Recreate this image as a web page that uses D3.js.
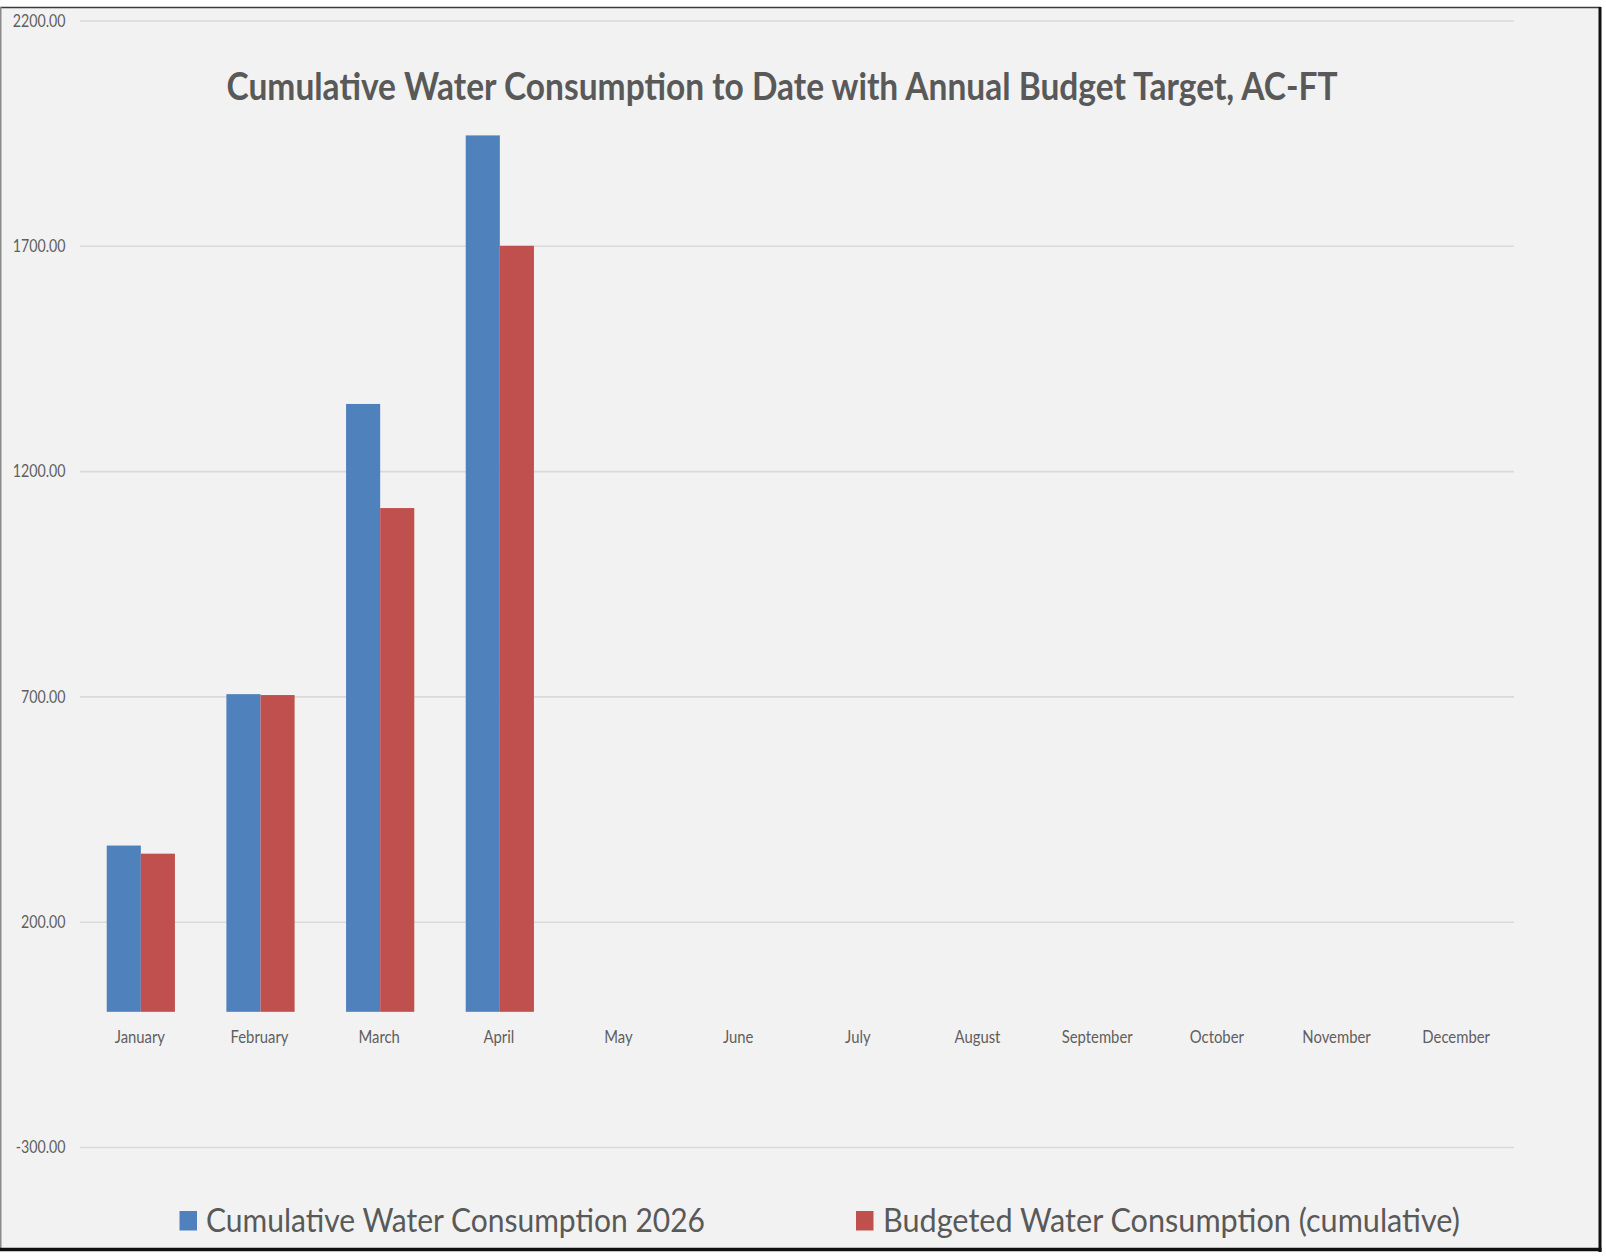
<!DOCTYPE html>
<html>
<head>
<meta charset="utf-8">
<script src="https://cdn.jsdelivr.net/npm/d3@7"></script>
<style>
  html, body { margin: 0; padding: 0; background: #ffffff; }
  svg { display: block; }
  text { font-family: Lato, "Open Sans", sans-serif; }
</style>
</head>
<body>
<svg id="chart" width="1606" height="1259"></svg>
<script>
// ---- data ----
const months = ["January", "February", "March", "April", "May", "June",
  "July", "August", "September", "October", "November", "December"];
const consumption2026 = [369, 705, 1349, 1945];
const budgetedCumulative = [351, 703, 1118, 1700];
const yTicks = [-300, 200, 700, 1200, 1700, 2200];
const seriesNames = ["Cumulative Water Consumption 2026", "Budgeted Water Consumption (cumulative)"];
const titleText = "Cumulative Water Consumption to Date with Annual Budget Target, AC-FT";

// ---- layout ----
const colors = ["#4f81bd", "#c0504d"];
const textColor = "#595959";
const svg = d3.select("#chart");

// chart area background and frame
svg.append("rect").attr("x", 1).attr("y", 8).attr("width", 1598).attr("height", 1240).attr("fill", "#f2f2f2");
svg.append("line").attr("x1", 0).attr("x2", 1601).attr("y1", 7.5).attr("y2", 7.5).attr("stroke", "#3a3a3a").attr("stroke-width", 1.5);
svg.append("line").attr("x1", 0.75).attr("x2", 0.75).attr("y1", 7).attr("y2", 1251).attr("stroke", "#8a8a8a").attr("stroke-width", 1.5);
svg.append("line").attr("x1", 1600).attr("x2", 1600).attr("y1", 7).attr("y2", 1252).attr("stroke", "#111").attr("stroke-width", 3);
svg.append("line").attr("x1", 0).attr("x2", 1601.5).attr("y1", 1249.5).attr("y2", 1249.5).attr("stroke", "#111").attr("stroke-width", 3.5);

// scales
const y = d3.scaleLinear().domain([-300, 2200]).range([1147, 20.5]);
const x = d3.scaleBand().domain(months).range([81, 1517]).paddingInner(0.43).paddingOuter(0.215);
const xs = d3.scaleBand().domain([0, 1]).range([0, x.bandwidth()]);

function squeeze(sel, factor) {
  sel.each(function () {
    const w = this.getComputedTextLength();
    d3.select(this).attr("textLength", w * factor).attr("lengthAdjust", "spacingAndGlyphs");
  });
}
function fitWidth(sel, width) {
  sel.attr("textLength", width).attr("lengthAdjust", "spacingAndGlyphs");
}

// gridlines + y labels via axis
const yAxis = d3.axisLeft(y).tickValues(yTicks).tickFormat(d => d.toFixed(2)).tickSize(-(1514 - 80)).tickPadding(14);
const gy = svg.append("g").attr("transform", "translate(80,0)").call(yAxis);
gy.select(".domain").remove();
gy.selectAll(".tick line").attr("stroke", "#dadada").attr("stroke-width", 1.6);
gy.selectAll(".tick text")
  .attr("fill", "#5f5f5f").attr("font-size", 16.5).attr("font-family", "Lato, sans-serif")
  .attr("x", -14.5).attr("dy", "0.34em");
gy.selectAll(".tick text").call(squeeze, 0.86);

// bars
const seriesData = [consumption2026, budgetedCumulative];
seriesData.forEach((vals, si) => {
  svg.append("g").selectAll("rect").data(vals).join("rect")
    .attr("x", (d, i) => x(months[i]) + xs(si))
    .attr("y", d => y(Math.max(0, d)))
    .attr("width", xs.bandwidth())
    .attr("height", d => Math.abs(y(d) - y(0)))
    .attr("fill", colors[si]);
});

// x labels via axis (no line)
const xAxis = d3.axisBottom(x).tickSize(0).tickPadding(0);
const gx = svg.append("g").attr("transform", "translate(-1,1043)").call(xAxis);
gx.select(".domain").remove();
gx.selectAll(".tick text")
  .attr("fill", "#5f5f5f").attr("font-size", 16.5).attr("font-family", "Lato, sans-serif")
  .attr("dy", 0).attr("y", 0);
gx.selectAll(".tick text").call(squeeze, 0.9);

// title
svg.append("text")
  .attr("x", 782).attr("y", 100)
  .attr("text-anchor", "middle")
  .attr("font-size", 38).attr("font-weight", "bold")
  .attr("fill", textColor)
  .text(titleText)
  .call(fitWidth, 1111);

// legend
const legendItems = [
  { sx: 179.5, tx: 206, tw: 499 },
  { sx: 856, tx: 883, tw: 577 }
];
legendItems.forEach((it, i) => {
  svg.append("rect").attr("x", it.sx).attr("y", 1211).attr("width", 17.5).attr("height", 19.5).attr("fill", colors[i]);
  svg.append("text")
    .attr("x", it.tx).attr("y", 1231.5)
    .attr("font-size", 33)
    .attr("fill", textColor)
    .text(seriesNames[i])
    .call(fitWidth, it.tw);
});
</script>
</body>
</html>
